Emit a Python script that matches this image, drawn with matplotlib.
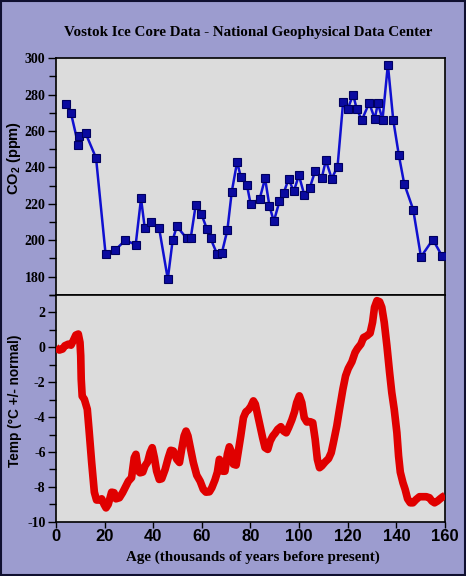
import numpy as np
import matplotlib
matplotlib.use("Agg")
import matplotlib.pyplot as plt
from matplotlib.patches import Rectangle

# CO2 samples (age in kyr BP, ppm)
co2_age = [4.3, 6.2, 9.2, 9.5, 12.2, 16.5, 20.4, 24.3, 28.5, 32.8, 35.0, 36.5,
           39.0, 42.4, 46.0, 48.0, 49.7, 53.8, 55.4, 57.5, 59.8, 62.1, 63.6,
           66.3, 68.2, 70.5, 72.3, 74.5, 76.0, 78.5, 80.1, 83.8, 86.0, 87.8,
           89.6, 91.9, 93.7, 95.7, 97.8, 99.9, 102.1, 104.4, 106.6, 109.3,
           111.0, 113.4, 115.8, 118.1, 120.0, 122.2, 123.7, 125.8, 128.8,
           131.1, 132.4, 134.3, 136.5, 138.7, 141.0, 143.2, 146.9, 150.1,
           155.0, 158.8]
co2_ppm = [274.7, 269.8, 252.3, 257.2, 258.8, 245.2, 192.7, 194.5, 200.0, 197.6,
           223.0, 207.0, 210.0, 206.9, 178.7, 200.0, 207.7, 201.0, 201.0, 219.5,
           214.4, 206.2, 201.0, 192.3, 192.9, 205.6, 226.6, 243.0, 235.0, 230.6,
           219.7, 222.8, 234.0, 218.8, 210.4, 221.3, 226.2, 233.7, 226.8, 235.7,
           225.1, 228.8, 238.1, 234.2, 243.9, 233.9, 240.4, 276.0, 272.1, 280.0,
           272.1, 266.0, 275.4, 266.8, 275.2, 266.3, 296.5, 266.1, 246.8, 231.1,
           216.9, 190.9, 200.4, 191.3]

# temperature deviation (age in kyr BP, deg C)
temp_age = [0.0, 1.4, 2.7, 3.7, 5.1, 6.2, 7.1, 8.2, 9.2, 9.9, 10.2, 10.4, 10.8,
            11.7, 12.9, 13.6, 14.7, 15.8, 16.7, 18.1, 18.8, 19.8, 20.6, 21.5,
            22.9, 23.9, 24.7, 26.1, 27.4, 28.8, 29.8, 31.1, 32.2, 32.9, 33.9,
            34.6, 35.7, 36.6, 37.7, 38.7, 39.6, 40.5, 41.4, 42.5, 43.5, 44.9,
            46.2, 47.2, 48.3, 49.7, 50.8, 51.7, 52.7, 53.5, 54.3, 55.4, 56.5,
            57.9, 59.3, 60.6, 61.7, 63.1, 64.1, 65.4, 66.4, 67.2, 67.9, 68.6,
            69.5, 70.5, 71.3, 72.3, 73.0, 74.1, 74.9, 76.0, 77.1, 78.1, 79.1,
            80.1, 81.2, 82.0, 82.9, 83.9, 85.0, 86.0, 87.1, 88.1, 89.2, 90.1,
            91.2, 92.5, 93.6, 94.7, 95.7, 97.0, 98.1, 99.0, 100.1, 101.1, 102.1,
            103.2, 104.5, 105.6, 106.6, 107.5, 108.4, 109.3, 110.7, 112.1,
            113.2, 114.1, 115.5, 116.6, 118.0, 119.1, 120.2, 121.7, 123.0,
            124.0, 125.4, 126.5, 127.9, 129.2, 130.2, 131.0, 132.0, 133.1,
            134.0, 135.0, 136.1, 137.2, 138.1, 139.1, 140.2, 140.9, 141.6,
            142.7, 143.6, 144.6, 145.7, 146.8, 148.1, 149.5, 150.9, 152.3,
            153.6, 154.6, 155.7, 156.9, 158.0, 159.1, 160.0]
temp_dev = [-0.01, -0.16, -0.10, 0.09, 0.18, 0.12, 0.37, 0.70, 0.76, 0.28, -0.49,
            -1.83, -2.80, -2.98, -3.55, -4.70, -6.60, -8.30, -8.75, -8.75, -8.68,
            -9.00, -9.20, -9.00, -8.30, -8.33, -8.68, -8.62, -8.33, -7.95, -7.67,
            -7.47, -6.33, -6.13, -7.09, -7.19, -7.15, -6.80, -6.57, -6.04, -5.75,
            -6.33, -7.09, -7.57, -7.53, -7.00, -6.33, -5.90, -5.94, -6.42, -6.60,
            -5.85, -5.08, -4.80, -5.08, -5.85, -6.60, -7.33, -7.67, -8.14, -8.30,
            -8.28, -8.05, -7.60, -7.15, -6.42, -6.60, -7.10, -7.10, -6.13, -5.70,
            -6.04, -6.70, -6.75, -6.04, -5.08, -4.03, -3.70, -3.59, -3.40, -3.07,
            -3.26, -3.84, -4.50, -5.18, -5.75, -5.85, -5.37, -5.08, -4.93, -4.70,
            -4.55, -4.80, -4.90, -4.60, -4.16, -3.70, -3.17, -2.78, -3.17, -4.03,
            -4.28, -4.26, -4.32, -5.27, -6.42, -6.90, -6.80, -6.57, -6.38, -6.04,
            -5.46, -4.50, -3.55, -2.40, -1.64, -1.22, -0.83, -0.30, -0.07, 0.18,
            0.56, 0.66, 0.81, 1.43, 2.29, 2.67, 2.61, 2.29, 1.43, 0.09, -1.44,
            -2.59, -3.55, -4.89, -6.23, -7.15, -7.76, -8.14, -8.68, -8.91, -8.91,
            -8.72, -8.56, -8.56, -8.56, -8.62, -8.81, -8.91, -8.81, -8.68, -8.56,
            -8.49]

x_ticks = [0, 20, 40, 60, 80, 100, 120, 140, 160]

bg = '#9c9ccf'
panel = '#dcdcdc'
serif = 'Liberation Serif'
sans = 'Liberation Sans'

plt.rcParams['mathtext.fontset'] = 'custom'
plt.rcParams['mathtext.rm'] = 'Liberation Sans:bold'
plt.rcParams['mathtext.it'] = 'Liberation Sans:bold'

fig = plt.figure(figsize=(4.66, 5.76), dpi=100, facecolor=bg)
ax1 = fig.add_axes([0.120, 0.488, 0.835, 0.411])
ax2 = fig.add_axes([0.120, 0.094, 0.835, 0.394], sharex=ax1)

for ax in (ax1, ax2):
    ax.set_facecolor(panel)
    for s in ax.spines.values():
        s.set_color('black')
        s.set_linewidth(1.2)
    ax.tick_params(axis='y', which='both', direction='out', color='black',
                   left=True, right=False, pad=1.5)
    ax.tick_params(axis='y', which='major', length=6, width=1)
    ax.tick_params(axis='y', which='minor', length=5, width=1)

# CO2 panel
ax1.plot(co2_age, co2_ppm, color='#1010d0', lw=1.8, marker='s', ms=5.5,
         mfc='#0a0aa0', mec='#000060', mew=0.8, zorder=3)
ax1.set_ylim(170, 300)
ax1.set_yticks(np.arange(180, 301, 20))
ax1.set_yticks(np.arange(170, 301, 10), minor=True)
ax1.tick_params(axis='x', which='both', bottom=False, labelbottom=False)
ax1.set_yticklabels([str(v) for v in range(180, 301, 20)],
                    fontfamily=serif, fontweight='bold', fontsize=10)

# temperature panel
ax2.plot(temp_age, temp_dev, color='#e00000', lw=5.5, solid_joinstyle='round',
         solid_capstyle='butt', zorder=3)
ax2.set_ylim(-10, 3)
ax2.set_xlim(0, 160)
ax2.set_yticks(np.arange(-10, 3, 2))
ax2.set_yticks(np.arange(-10, 4, 1), minor=True)
ax2.set_yticklabels([str(v) for v in range(-10, 3, 2)],
                    fontfamily=serif, fontweight='bold', fontsize=10)
ax2.set_xticks(x_ticks)
ax2.set_xticklabels([str(v) for v in x_ticks], fontfamily=sans,
                    fontweight='bold', fontsize=12)
ax2.tick_params(axis='x', direction='out', length=4, width=1, pad=1)

fig.text(0.532, 0.944, 'Vostok Ice Core Data - National Geophysical Data Center',
         ha='center', va='center', fontfamily=serif, fontweight='bold',
         fontsize=10.8)
fig.text(0.03, 1 - 158 / 576, r'CO$_2$ (ppm)', rotation=90, ha='center',
         va='center', fontfamily=sans, fontweight='bold', fontsize=10.5)
fig.text(0.032, 1 - 401 / 576, 'Temp (°C +/- normal)', rotation=90,
         ha='center', va='center', fontfamily=sans, fontweight='bold',
         fontsize=9.8)
fig.text(0.543, 1 - 557 / 576, 'Age (thousands of years before present)',
         ha='center', va='center', fontfamily=serif, fontweight='bold',
         fontsize=10.8)

# frame round the whole picture
fig.patches.append(Rectangle((0.002, 0.002), 0.996, 0.996,
                             transform=fig.transFigure, fill=False,
                             edgecolor='#101030', lw=1.5))

fig.savefig('out.png', dpi=100, facecolor=bg)
